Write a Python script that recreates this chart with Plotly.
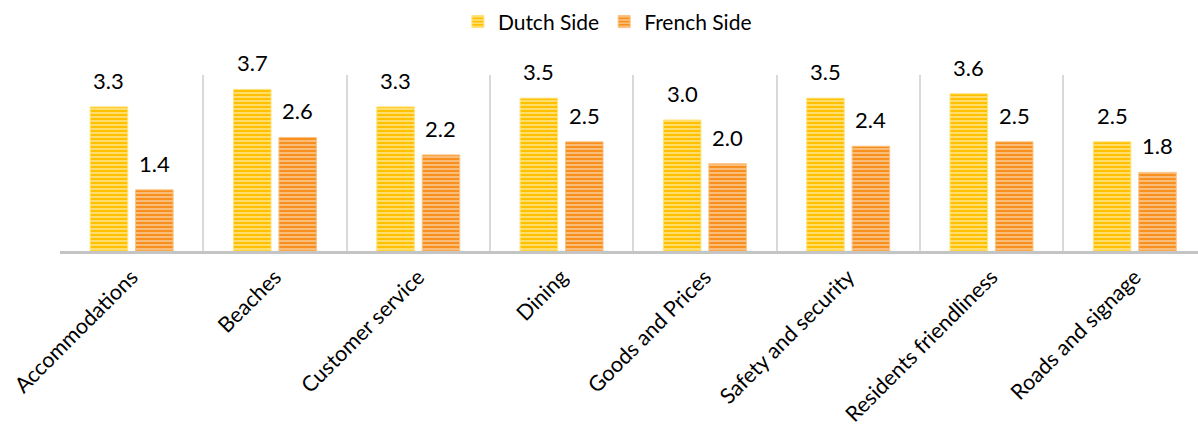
import plotly.graph_objects as go

categories = ["Accommodations", "Beaches", "Customer service", "Dining",
              "Goods and Prices", "Safety and security", "Residents friendliness",
              "Roads and signage"]
dutch_side = [3.3, 3.7, 3.3, 3.5, 3.0, 3.5, 3.6, 2.5]
french_side = [1.4, 2.6, 2.2, 2.5, 2.0, 2.4, 2.5, 1.8]

FONT = "Lato"
W, H = 1198, 430
M_L, M_R, M_T, M_B = 60, 0, 75, 179
X_RANGE = [-0.5, 7.441]
BARGAP, GROUPGAP = 0.366, 0.174

cat_px = (W - M_L - M_R) / (X_RANGE[1] - X_RANGE[0])
slot_px = cat_px * (1 - BARGAP) / 2
offset_px = slot_px / 2

series = [
    ("Dutch Side", dutch_side, "#FFC000", "#FFE27A", -offset_px),
    ("French Side", french_side, "#F7901E", "#FBC283", offset_px),
]

fig = go.Figure()
for name, vals, base, stripe, _ in series:
    fig.add_trace(go.Bar(
        name=name, x=categories, y=vals,
        marker=dict(
            color=base,
            line=dict(color=stripe, width=1),
            pattern=dict(shape="-", fillmode="replace", bgcolor=base,
                         fgcolor=stripe, size=4, solidity=0.45),
        ),
        hoverinfo="x+y",
    ))

annotations = []
for name, vals, _, _, shift in series:
    for c, v in zip(categories, vals):
        annotations.append(dict(
            x=c, y=v, xref="x", yref="y", text=f"{v:.1f}", showarrow=False,
            xshift=shift, yshift=11, yanchor="bottom",
            font=dict(family=FONT, size=22, color="#000000"),
        ))

fig.update_layout(
    width=W, height=H,
    margin=dict(l=M_L, r=M_R, t=M_T, b=M_B, pad=0, autoexpand=False),
    paper_bgcolor="white", plot_bgcolor="white",
    barmode="group", bargap=BARGAP, bargroupgap=GROUPGAP,
    font=dict(family=FONT, size=21, color="#000000"),
    showlegend=True,
    legend=dict(orientation="h", x=0.481, xanchor="center",
                yref="container", y=0.949, yanchor="middle",
                font=dict(family=FONT, size=21), itemwidth=30,
                traceorder="normal"),
    annotations=annotations,
)
fig.update_xaxes(
    type="category", range=X_RANGE, tickson="boundaries", automargin=False,
    showgrid=True, gridcolor="#D9D9D9", gridwidth=1.5,
    showline=True, linecolor="#C4C4C4", linewidth=3,
    ticks="", tickangle=-45, ticklabelstandoff=2,
    tickfont=dict(family=FONT, size=21.5),
)
fig.update_yaxes(range=[0, 4.03], showgrid=False, showticklabels=False,
                 zeroline=False, showline=False, automargin=False)

fig.write_html("out.html")
